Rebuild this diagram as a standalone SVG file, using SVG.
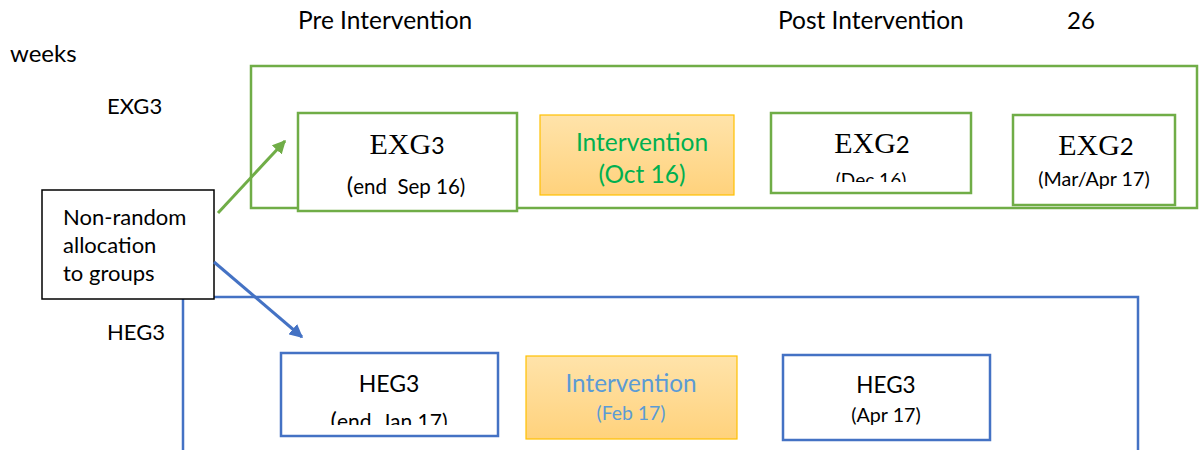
<svg xmlns="http://www.w3.org/2000/svg" width="1200" height="450" viewBox="0 0 1200 450">
  <style>
    .lbl { font-family: Lato, "Liberation Sans", sans-serif; fill: #000; }
    .serif { font-family: "Liberation Serif", "Times New Roman", serif; fill: #000; }
    .gbox { fill: #fff; stroke: #70AD47; stroke-width: 2.5; }
    .bbox { fill: #fff; stroke: #4472C4; stroke-width: 2.5; }
    .frame-g { fill: none; stroke: #70AD47; stroke-width: 2.5; }
    .frame-b { fill: none; stroke: #4472C4; stroke-width: 2.5; }
    .ibox { fill: url(#orange); stroke: #FFC000; stroke-width: 1.2; }
    .mid { text-anchor: middle; }
    .green { fill: #00B050; }
    .blue { fill: #5B9BD5; }
  </style>
  <defs>
    <linearGradient id="orange" x1="0" y1="0" x2="0" y2="1">
      <stop offset="0" stop-color="#FFE3AA"/>
      <stop offset="1" stop-color="#FFD27C"/>
    </linearGradient>
    <marker id="arrG" viewBox="0 0 10 10" refX="9" refY="5" markerWidth="4.5" markerHeight="4.5" orient="auto" markerUnits="strokeWidth">
      <path d="M0,0 L10,5 L0,10 z" fill="#70AD47"/>
    </marker>
    <marker id="arrB" viewBox="0 0 10 10" refX="9" refY="5" markerWidth="4.5" markerHeight="4.5" orient="auto" markerUnits="strokeWidth">
      <path d="M0,0 L10,5 L0,10 z" fill="#4472C4"/>
    </marker>
    <clipPath id="clipDec"><rect x="771" y="113" width="200" height="69"/></clipPath>
    <clipPath id="clipJan"><rect x="281" y="353" width="217" height="72"/></clipPath>
  </defs>

  <!-- header labels -->
  <g id="headers">
    <text class="lbl" x="298" y="29" font-size="24.5">Pre Intervention</text>
    <text class="lbl" x="778" y="29" font-size="24.5">Post Intervention</text>
    <text class="lbl" x="1067" y="29" font-size="24">26</text>
    <text class="lbl" x="10" y="62" font-size="24">weeks</text>
    <text class="lbl" x="107" y="114" font-size="22">EXG3</text>
    <text class="lbl" x="107" y="340" font-size="22">HEG3</text>
  </g>

  <!-- group frames -->
  <g id="exg-frame">
    <rect class="frame-g" x="251" y="66" width="946" height="142"/>
  </g>
  <g id="heg-frame">
    <path class="frame-b" d="M183,452 L183,297 L1138,297 L1138,452"/>
  </g>

  <!-- EXG row -->
  <g id="exg3-pre">
    <rect class="gbox" x="298" y="113" width="219" height="98"/>
    <text class="serif mid" x="407" y="154" font-size="30">EXG<tspan class="lbl" font-size="23">3</tspan></text>
    <text class="lbl mid" x="406" y="194" font-size="20.5"><tspan font-size="24">(</tspan>end&#160; Sep 16)</text>
  </g>
  <g id="exg-intervention">
    <rect class="ibox" x="540" y="115" width="194" height="80"/>
    <text class="lbl mid green" x="642" y="151" font-size="24.5">Intervention</text>
    <text class="lbl mid green" x="642" y="183" font-size="24.5">(Oct 16)</text>
  </g>
  <g id="exg2-dec">
    <rect class="gbox" x="771" y="113" width="200" height="80"/>
    <text class="serif mid" x="872" y="153" font-size="30">EXG<tspan class="lbl" font-size="24">2</tspan></text>
    <text class="lbl mid" x="871" y="187" font-size="19" clip-path="url(#clipDec)">(Dec 16)</text>
  </g>
  <g id="exg2-marapr">
    <rect class="gbox" x="1013" y="115" width="162" height="90"/>
    <text class="serif mid" x="1096" y="155" font-size="30">EXG<tspan class="lbl" font-size="24">2</tspan></text>
    <text class="lbl mid" x="1094" y="186" font-size="19.7">(Mar/Apr 17)</text>
  </g>

  <!-- allocation box -->
  <g id="allocation">
    <rect x="42" y="190" width="172" height="109" fill="#fff" stroke="#000" stroke-width="1.5"/>
    <text class="lbl" x="63" y="225" font-size="22">Non-random</text>
    <text class="lbl" x="63" y="253" font-size="22">allocation</text>
    <text class="lbl" x="63" y="281" font-size="22">to groups</text>
  </g>

  <!-- HEG row -->
  <g id="heg3-pre">
    <rect class="bbox" x="281" y="353" width="217" height="83"/>
    <text class="lbl mid" x="389" y="392" font-size="23">HEG3</text>
    <text class="lbl mid" x="389" y="429" font-size="21" clip-path="url(#clipJan)"><tspan font-size="24">(</tspan>end&#160; Jan 17)</text>
  </g>
  <g id="heg-intervention">
    <rect class="ibox" x="526" y="356" width="211" height="83"/>
    <text class="lbl mid blue" x="631" y="392" font-size="24.3">Intervention</text>
    <text class="lbl mid blue" x="631" y="420" font-size="19.4">(Feb 17)</text>
  </g>
  <g id="heg3-apr">
    <rect class="bbox" x="783" y="355" width="207" height="85"/>
    <text class="lbl mid" x="886" y="393" font-size="22.5">HEG3</text>
    <text class="lbl mid" x="886" y="422" font-size="19.7">(Apr 17)</text>
  </g>

  <!-- connectors -->
  <g id="connectors">
    <line x1="218" y1="213" x2="285" y2="141" stroke="#70AD47" stroke-width="3" marker-end="url(#arrG)"/>
    <line x1="214" y1="262" x2="302" y2="337" stroke="#4472C4" stroke-width="3" marker-end="url(#arrB)"/>
  </g>
</svg>
